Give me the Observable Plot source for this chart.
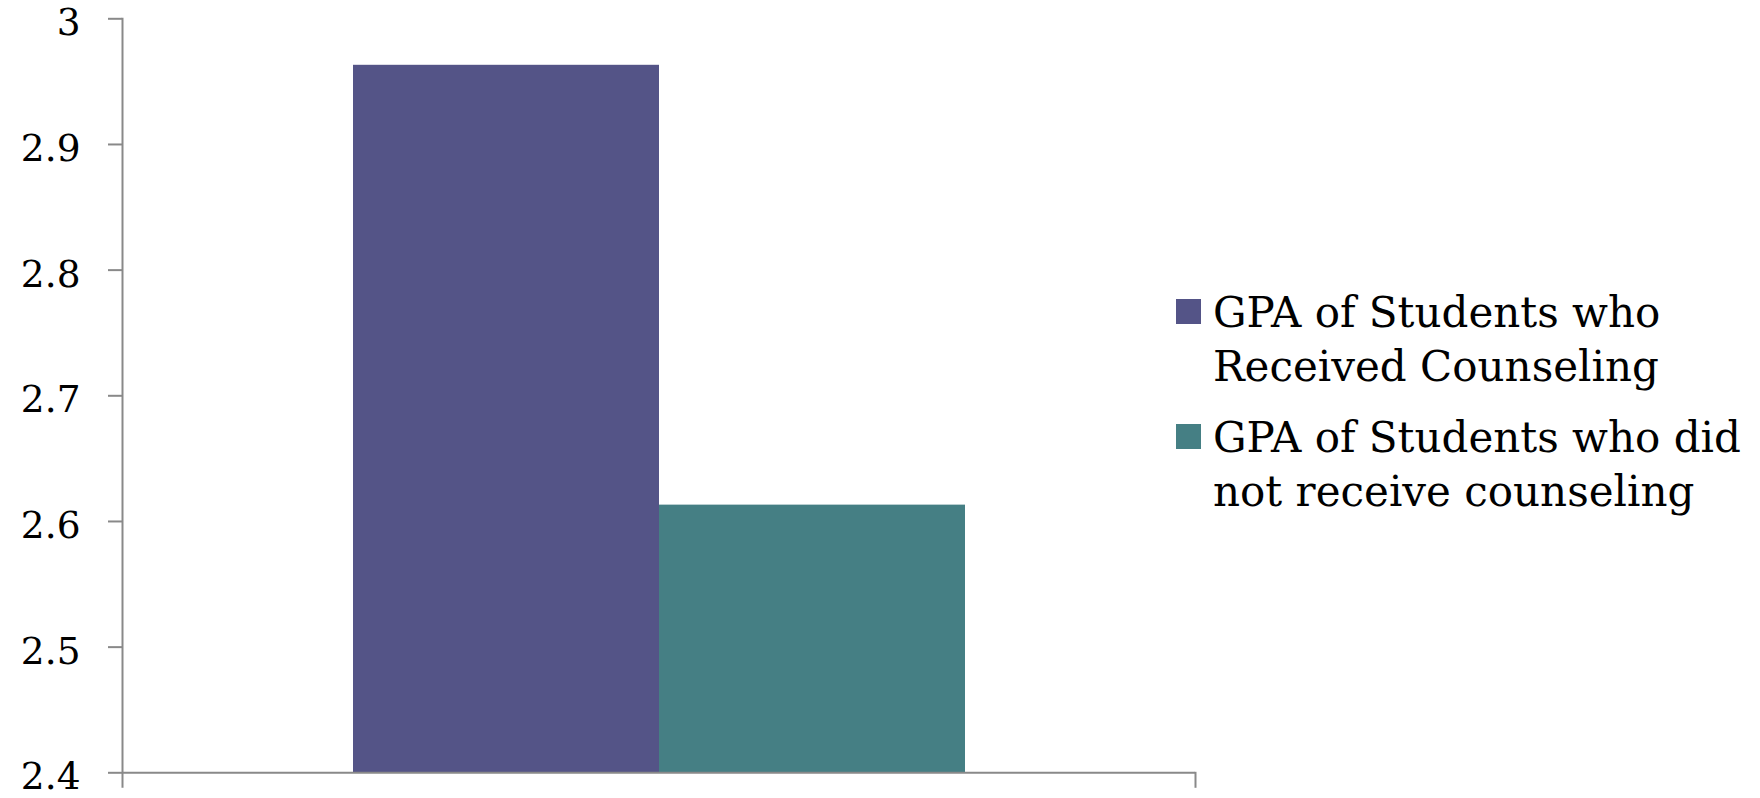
<!DOCTYPE html>
<html>
<head>
<meta charset="utf-8">
<script src="https://cdn.jsdelivr.net/npm/d3@7"></script>
<script src="https://cdn.jsdelivr.net/npm/@observablehq/plot@0.6"></script>
<style>
  html, body { margin: 0; padding: 0; background: #fff; }
  #chart { position: relative; width: 1760px; height: 798px; }
  #legend {
    position: absolute; left: 1176px; top: 285.5px;
    font-family: "DejaVu Serif", serif; font-size: 42px; line-height: 54px; color: #000;
    white-space: nowrap;
  }
  .item { display: flex; align-items: flex-start; margin-bottom: 17px; }
  .swatch { width: 25px; height: 25px; margin-top: 13px; margin-right: 12px; flex: none; }
</style>
</head>
<body>
<div id="chart"></div>
<script>
// Series shown as side-by-side bars
const series = [
  "GPA of Students who Received Counseling",
  "GPA of Students who did not receive counseling"
];
const legendLines = [
  ["GPA of Students who", "Received Counseling"],
  ["GPA of Students who did", "not receive counseling"]
];
const gpa = [2.963, 2.613];
const colors = ["#545487", "#457F84"];
const yTicks = [2.4, 2.5, 2.6, 2.7, 2.8, 2.9, 3];
const yTickLabels = ["2.4", "2.5", "2.6", "2.7", "2.8", "2.9", "3"];

const data = series.map((s, i) => ({series: s, value: gpa[i]}));

const width = 1760, height = 798;
const margin = {top: 18.3, right: 565, bottom: 25.7, left: 122};
const innerWidth = width - margin.left - margin.right;
const innerHeight = height - margin.top - margin.bottom;
const tickLength = 14;
const axisColor = "#898989";
const axisWidth = 2;
const yMin = yTicks[0];

const chart = Plot.plot({
  width, height,
  marginTop: margin.top, marginRight: margin.right,
  marginBottom: margin.bottom, marginLeft: margin.left,
  style: {fontFamily: "'DejaVu Serif', serif", background: "#fff", color: "#000"},
  x: {domain: series, paddingInner: 0, paddingOuter: 0.75, axis: null},
  y: {domain: [yMin, yTicks[yTicks.length - 1]], axis: null, label: null},
  color: {domain: series, range: colors},
  marks: [
    Plot.barY(data, {x: "series", y1: yMin, y2: "value", fill: "series"}),
    // outward tick marks on the value axis
    Plot.tickY(yTicks, {
      y: d => d, stroke: axisColor, strokeWidth: axisWidth,
      insetLeft: -tickLength, insetRight: innerWidth
    }),
    // tick labels
    Plot.axisY(yTicks, {
      anchor: "left", label: null, tickSize: 0, tickPadding: tickLength + 28,
      tickFormat: d => yTickLabels[yTicks.indexOf(d)],
      fill: "#000", fontSize: 37.5, dy: 4.6
    }),
    Plot.frame({anchor: "left", stroke: axisColor, strokeWidth: axisWidth, insetBottom: -tickLength}),
    Plot.ruleY([yMin], {stroke: axisColor, strokeWidth: axisWidth}),
    Plot.frame({anchor: "right", stroke: axisColor, strokeWidth: axisWidth, insetTop: innerHeight, insetBottom: -tickLength})
  ]
});
const root = document.getElementById("chart");
root.appendChild(chart);

// Legend to the right of the plot
const legend = document.createElement("div");
legend.id = "legend";
series.forEach((s, i) => {
  const item = document.createElement("div");
  item.className = "item";
  const sw = document.createElement("div");
  sw.className = "swatch";
  sw.style.background = colors[i];
  const label = document.createElement("div");
  label.innerHTML = legendLines[i].join("<br>");
  item.appendChild(sw);
  item.appendChild(label);
  legend.appendChild(item);
});
root.appendChild(legend);
</script>
</body>
</html>
